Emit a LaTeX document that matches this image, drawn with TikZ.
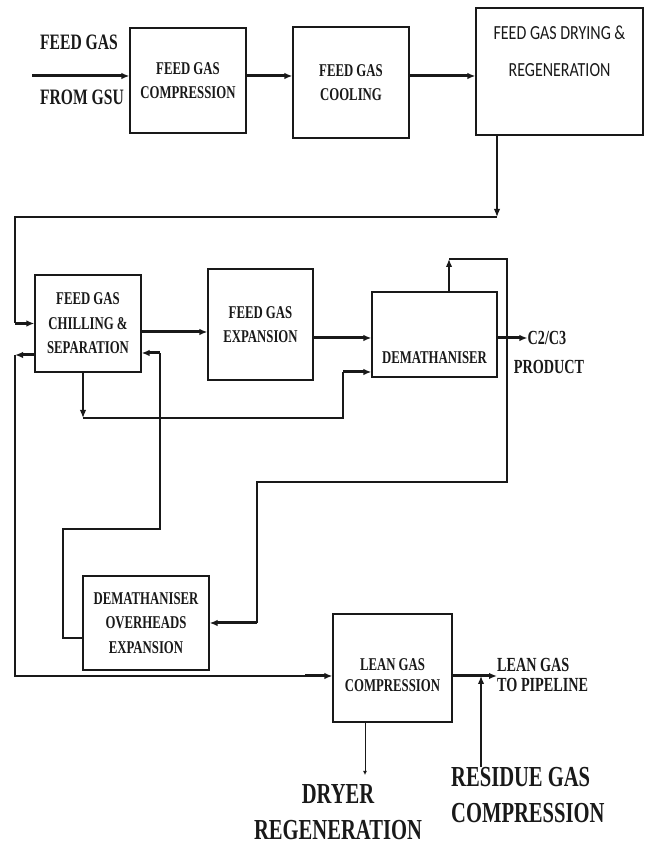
\documentclass[tikz,border=0pt]{standalone}
\usepackage{fontspec}
\usepackage{tikz}
\usetikzlibrary{positioning}
\usetikzlibrary{arrows.meta}
\usetikzlibrary{calc}
\newfontfamily\boxfont{Liberation Serif}[FakeStretch=0.71]
\newfontfamily\dryfont{Carlito}[FakeStretch=0.8]
\definecolor{inkcolor}{RGB}{25,25,25}

\begin{document}
\begin{tikzpicture}[
    x=1pt, y=1pt,
    boxtext/.style={align=center, inner sep=0pt, text=inkcolor, font=\boxfont\bfseries\fontsize{18}{24.5}\selectfont},
    block/.style={rectangle, draw=inkcolor, line width=1.2pt, boxtext, minimum width=116pt, minimum height=105pt},
    tag/.style={align=center, inner sep=0pt, text=inkcolor, font=\boxfont\bfseries\fontsize{22}{26}\selectfont},
    bigtag/.style={tag, font=\boxfont\bfseries\fontsize{29}{36}\selectfont},
    arrow/.style={-{Latex[length=8pt,width=6.5pt]}, line width=3pt, draw=inkcolor},
    flowline/.style={line width=1.4pt, draw=inkcolor},
    larrow/.style={flowline, -{Latex[length=8pt,width=6.5pt]}},
    tiparrow/.style={flowline, line width=0.9pt, -{Latex[length=4pt,width=4pt]}}
]
\useasboundingbox (0,0) rectangle (650,848);

% top row
\node[block] (comp) at (188,767.5) {FEED GAS\\COMPRESSION};
\node[block, minimum height=111pt] (cool) at (351,765.5) {FEED GAS\\COOLING};
\node[block, minimum width=167pt, minimum height=127pt,
      label={[align=center, inner sep=0pt, text=inkcolor, font=\dryfont\fontsize{20}{37}\selectfont, yshift=20pt]center:FEED GAS DRYING \&\\REGENERATION}] (dry) at (559.5,776.5) {};

\node[tag] (feedin) at (79,806) {FEED GAS};
\node[tag] (gsu) at (82,751) {FROM GSU};

\coordinate (src) at (32,772);
\coordinate (row1) at (0,772);
\draw[arrow] (src) -- (comp.west |- src);
\draw[arrow] (comp.east |- row1) -- (cool.west |- row1);
\draw[arrow] (cool.east |- row1) -- (dry.west |- row1);

% middle row
\node[block, minimum width=106pt, minimum height=97pt] (chill) at (88,524.5) {FEED GAS\\CHILLING \&\\SEPARATION};
\node[block, minimum width=105pt, minimum height=111pt] (exp) at (260.5,523.5) {FEED GAS\\EXPANSION};
\node[block, minimum width=125pt, minimum height=85pt,
      label={[boxtext, yshift=-23pt]center:DEMATHANISER}] (demeth) at (434.5,513.5) {};

\node[tag, font=\boxfont\bfseries\fontsize{20}{24}\selectfont] (c23) at (547,510) {C2/C3};
\node[tag, font=\boxfont\bfseries\fontsize{20}{24}\selectfont] (prodlbl) at (549,481) {PRODUCT};

\coordinate (row2) at (0,516);
\coordinate (row3) at (0,510);
\draw[arrow] (chill.east |- row2) -- (exp.west |- row2);
\draw[arrow] (exp.east |- row3) -- (demeth.west |- row3);
\draw[arrow] (demeth.east |- row3) -- (c23);

% dryer outlet loops back to chilling
\coordinate (drydrop) at (497,631);
\coordinate (feedloop) at (15,631);
\draw[larrow] (dry.south -| drydrop) -- (drydrop);
\draw[flowline] (drydrop) -- (feedloop) -- (feedloop |- chill.west);
\draw[arrow] (feedloop |- chill.west) -- (chill.west);

% chilling bottom to demethaniser
\coordinate (chilldrop) at (83,430);
\coordinate (demin) at (343,476);
\draw[larrow] (chill.south -| chilldrop) -- (chilldrop);
\draw[flowline] (chilldrop) -| (demin);
\draw[arrow] (demin) -- (demeth.west |- demin);

% bottom part
\node[block, minimum width=126pt, minimum height=94pt] (ohexp) at (146,225) {DEMATHANISER\\OVERHEADS\\EXPANSION};
\node[block, minimum width=119pt, minimum height=108pt,
      label={[boxtext, font=\boxfont\bfseries\fontsize{18}{21}\selectfont, yshift=-7pt]center:LEAN GAS\\COMPRESSION}] (lean) at (392.5,180) {};

\node[tag, anchor=west, align=left, font=\boxfont\bfseries\fontsize{20}{20}\selectfont] (pipeline) at (497,173) {LEAN GAS\\TO PIPELINE};
\node[bigtag] (dryer) at (338,35.5) {DRYER\\REGENERATION};
\node[bigtag, anchor=west, align=left] (residue) at (451,53) {RESIDUE GAS\\COMPRESSION};

% demethaniser overheads
\coordinate (demtop) at (449,589);
\coordinate (demrun) at (507,366);
\coordinate (ohin) at (257,225);
\draw[larrow] (demeth.north -| demtop) -- (demtop);
\draw[flowline] (demtop) -| (demrun) -| (ohin);
\draw[arrow] (ohin) -- (ohexp.east);

% overheads expansion back to chilling
\coordinate (ohout) at (63,210);
\coordinate (ohup) at (160,319);
\coordinate (ohr) at (160,495);
\draw[flowline] (ohexp.west |- ohout) -- (ohout) |- (ohup) -- (ohr);
\draw[arrow] (ohr) -- (chill.east |- ohr);

% chilling left outlet to lean gas
\coordinate (chillret) at (15,493);
\coordinate (row5) at (0,172);
\coordinate (leanstub) at (305,172);
\draw[arrow] (chill.west |- chillret) -- (chillret);
\draw[flowline] (chillret) |- (leanstub);
\draw[arrow] (leanstub) -- (lean.west |- row5);

\coordinate (resjoin) at (481,172);
\coordinate (dryx) at (365,73);
\draw[arrow] (lean.east |- row5) -- (pipeline.west |- row5);
\draw[larrow] (resjoin |- residue.north) -- (resjoin);
\draw[tiparrow] (lean.south -| dryx) -- (dryx);

\end{tikzpicture}
\end{document}
